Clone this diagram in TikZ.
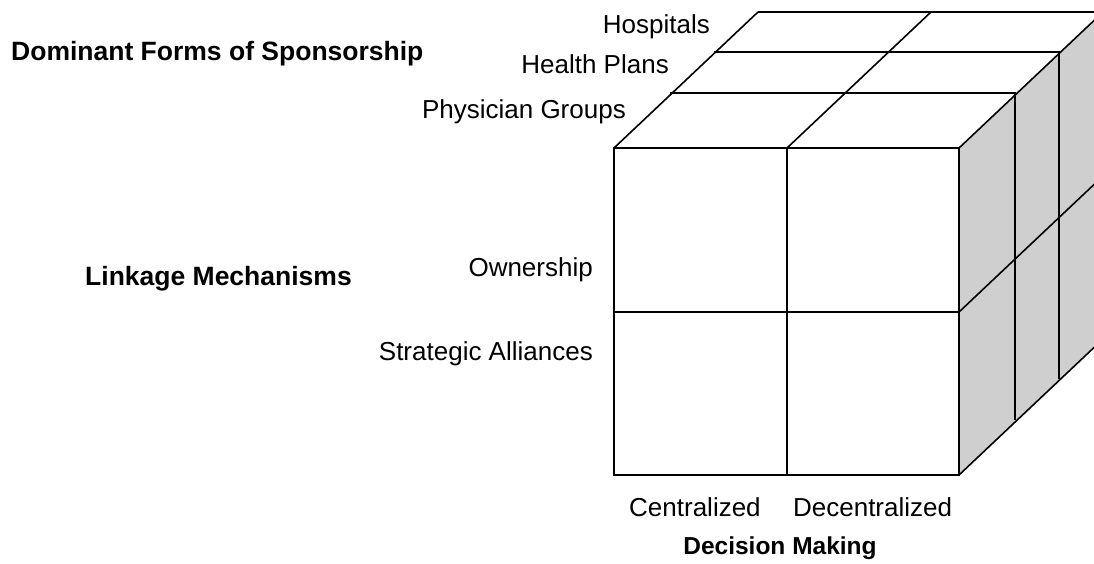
\documentclass[tikz,border=0pt]{standalone}
\usepackage{fontspec}
\setmainfont{Liberation Sans}
\usetikzlibrary{positioning,calc}
\definecolor{sidegray}{HTML}{CFCFCF}

\begin{document}
\begin{tikzpicture}[x=1pt, y=-1pt,
    lbl/.style={font=\fontsize{26}{30}\selectfont, inner sep=0pt},
    ttl/.style={font=\fontsize{26.5}{30}\selectfont\bfseries, inner sep=0pt},
    edge/.style={line width=1.6pt}]
  \useasboundingbox (0,0) rectangle (1094,563);
  \clip (0,0) rectangle (1094,563);

  \coordinate (f1) at (614,148);
  \coordinate (f2) at (787,148);
  \coordinate (f3) at (959,148);
  \coordinate (f4) at (959,312);
  \coordinate (f5) at (959,475);
  \coordinate (f6) at (787,475);
  \coordinate (f7) at (614,475);
  \coordinate (f8) at (614,312);
  \coordinate (k) at (144,-136);

  \fill[sidegray] (f3) -- ($(f3)+(k)$) -- ($(f5)+(k)$) -- (f5) -- cycle;

  \foreach \dx/\dy in {0/0, 56/-55, 100/-96, 144/-136} {
    \draw[edge] ($(f1)+(\dx,\dy)$) -- ($(f3)+(\dx,\dy)$) -- ($(f5)+(\dx,\dy)$);
  }
  \foreach \p in {f1,f2,f3,f4,f5} {
    \draw[edge] (\p) -- ($(\p)+(k)$);
  }

  \draw[edge] (f1) rectangle (f5);
  \draw[edge] (f2) -- (f6);
  \draw[edge] (f8) -- (f4);

  \node[ttl, anchor=base west] (t1) at (11,60) {Dominant Forms of Sponsorship};
  \node[lbl, anchor=base east] (s1) at (710,33) {Hospitals};
  \node[lbl, anchor=base east] (s2) at ($(s1.base east)+(-41,40)$) {Health Plans};
  \node[lbl, anchor=base east] (s3) at ($(s2.base east)+(-43,45)$) {Physician Groups};

  \node[ttl, anchor=base west] (t2) at (85,285) {Linkage Mechanisms};
  \node[lbl, anchor=base east] (m1) at (593,276) {Ownership};
  \node[lbl, anchor=base east] (m2) at ($(m1.base east)+(0,84)$) {Strategic Alliances};

  \node[lbl, anchor=base west] (d1) at (629,516) {Centralized};
  \node[lbl, right=32pt of d1] (d2) {Decentralized};
  \node[ttl, font=\fontsize{24.5}{29}\selectfont\bfseries, anchor=base] (t3) at (780,554) {Decision Making};
\end{tikzpicture}
\end{document}
